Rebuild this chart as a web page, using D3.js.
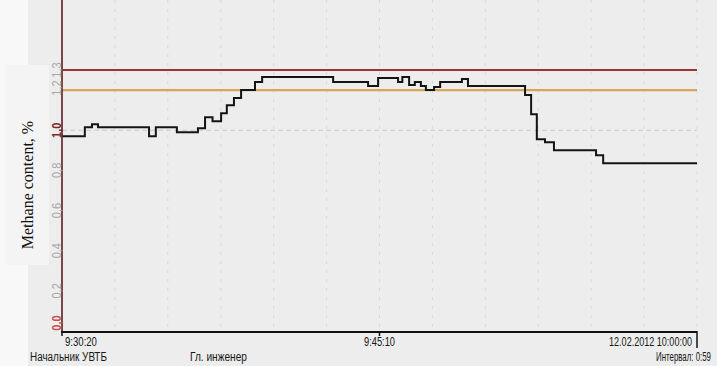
<!DOCTYPE html>
<html><head><meta charset="utf-8">
<script src="https://cdn.jsdelivr.net/npm/d3@7"></script>
<style>
html,body{margin:0;padding:0;background:#f8f8f8;}
svg{display:block;}
</style></head>
<body>
<svg id="chart" width="717" height="366"></svg>
<script>
// ---- data ----
const times = ["9:30:20","9:31:24","9:31:44","9:32:01","9:34:24","9:34:43","9:35:42","9:36:41","9:37:01","9:37:22","9:37:46","9:38:02","9:38:22","9:38:42","9:39:21","9:39:41","9:43:00","9:44:38","9:45:06","9:46:02","9:46:14","9:46:33","9:46:49","9:47:06","9:47:20","9:47:43","9:48:00","9:49:01","9:49:18","9:51:58","9:52:15","9:52:31","9:52:54","9:53:19","9:55:17","9:55:37","10:00:00"];
const methane = [0.97,1.015,1.03,1.015,0.97,1.015,0.99,1.01,1.065,1.045,1.085,1.125,1.16,1.20,1.24,1.265,1.24,1.22,1.26,1.24,1.265,1.225,1.24,1.22,1.20,1.215,1.24,1.255,1.22,1.175,1.08,0.955,0.94,0.90,0.875,0.835,0.835];
const limits = [1.3, 1.2];
const yTicks = [0, 0.2, 0.4, 0.6, 0.8, 1.0, 1.2, 1.3];
const yTickLabels = ["0,0","0,2","0,4","0,6","0,8","1,0","1,2","1,3"];
const xTickTimes = ["9:30:20", "9:45:10", "10:00:00"];
const xTickLabels = ["9:30:20", "9:45:10", "12.02.2012 10:00:00"];
const yTitle = "Methane content, %";
const footer = ["Начальник УВТБ", "Гл. инженер", "Интервал: 0:59"];

// ---- setup ----
const parse = d3.timeParse("%H:%M:%S");
const svg = d3.select("#chart");
const x = d3.scaleTime().domain([parse("9:30:20"), parse("10:00:00")]).range([62, 697]);
const y = d3.scaleLinear().domain([0, 1.3]).range([331, 70]);

// background
svg.append("rect").attr("x", 28).attr("y", 0).attr("width", 689).attr("height", 366).attr("fill", "#ededed");

// vertical dashed grid
const gridT = d3.range(1, 13).map(i => new Date(+x.domain()[0] + i * (x.domain()[1] - x.domain()[0]) / 12));
svg.append("g").selectAll("line").data(gridT).join("line")
  .attr("x1", d => x(d)).attr("x2", d => x(d)).attr("y1", 0).attr("y2", y(0))
  .attr("stroke", "#d9d9d9").attr("stroke-width", 1).attr("stroke-dasharray", "3,6");
// horizontal grid at 1.0
svg.append("line").attr("x1", x.range()[0]).attr("x2", x.range()[1]).attr("y1", y(1)).attr("y2", y(1))
  .attr("stroke", "#cacaca").attr("stroke-width", 1.2).attr("stroke-dasharray", "5,3");

// limit lines
const limitColors = ["#9a3434", "#d6a55a"];
svg.append("g").selectAll("line").data(limits).join("line")
  .attr("x1", x.range()[0]).attr("x2", x.range()[1]).attr("y1", d => y(d)).attr("y2", d => y(d))
  .attr("stroke", (d, i) => limitColors[i]).attr("stroke-width", 2.2);

// step line
const pts = times.map((t, i) => ({t: parse(t), v: methane[i]}));
svg.append("path").datum(pts)
  .attr("d", d3.line().x(d => x(d.t)).y(d => y(d.v)).curve(d3.curveStepAfter))
  .attr("fill", "none").attr("stroke", "#141414").attr("stroke-width", 2);

// axes
svg.append("line").attr("x1", 62).attr("x2", 62).attr("y1", 0).attr("y2", y(0) + 1)
  .attr("stroke", "#5a1e1e").attr("stroke-width", 1.6);
svg.append("line").attr("x1", 61).attr("x2", 697).attr("y1", y(0) + 1).attr("y2", y(0) + 1)
  .attr("stroke", "#111").attr("stroke-width", 2);
// x ticks
svg.append("g").selectAll("line").data(xTickTimes).join("line")
  .attr("x1", d => x(parse(d))).attr("x2", d => x(parse(d)))
  .attr("y1", y(0)).attr("y2", (d, i) => i === 2 ? y(0) + 17 : y(0) + 5)
  .attr("stroke", "#111").attr("stroke-width", 1.5);

const sans = "'Liberation Sans',Arial,sans-serif";
// condensed text helper: places text, then squeezes horizontally to target width
function condensed(parent, str, px, py, anchor, w, size, fill) {
  const g = parent.append("g");
  const t = g.append("text").attr("font-family", sans).attr("font-size", size)
    .attr("fill", fill).attr("text-anchor", anchor).text(str);
  const nat = t.node().getComputedTextLength();
  const s = Math.min(1, w / nat);
  g.attr("transform", `translate(${px},${py}) scale(${s},1)`);
  return g;
}
// x labels
const xLabelW = [32, 31, 83];
xTickTimes.forEach((d, i) => {
  const px = i === 0 ? x(parse(d)) + 3 : i === 1 ? x(parse(d)) : x(parse(d)) - 5;
  const anchor = i === 0 ? "start" : i === 1 ? "middle" : "end";
  condensed(svg, xTickLabels[i], px, 346, anchor, xLabelW[i], 12.5, "#161616");
});

// y tick labels (rotated)
svg.append("g").selectAll("text").data(yTicks).join("text")
  .attr("transform", (d, i) => `translate(61,${y(d) - (d === 0 ? 8 : 0) + (d === 1.2 ? -2 : 0)}) rotate(-90) scale(0.85,1)`)
  .attr("text-anchor", "middle")
  .attr("font-family", sans).attr("font-size", 13)
  .attr("font-weight", d => (d === 0 || d === 1) ? "bold" : "normal")
  .attr("fill", d => d === 0 ? "#c85050" : d === 1 ? "#7a2a2a" : "#a8a8a8")
  .text((d, i) => yTickLabels[i]);

// label box + title
svg.append("rect").attr("x", 5).attr("y", 65).attr("width", 44).attr("height", 200).attr("fill", "#f4f4f4");
svg.append("text").attr("transform", `translate(33,185) rotate(-90)`)
  .attr("text-anchor", "middle").attr("font-family", "'Liberation Serif','Times New Roman',serif")
  .attr("font-size", 16).attr("fill", "#111").text(yTitle);

// footer
const footX = [30, 190, 711];
const footW = [77, 57, 55];
footer.forEach((d, i) => {
  condensed(svg, d, footX[i], 361, i === 2 ? "end" : "start", footW[i], 12.5, "#161616");
});
</script>
</body></html>
